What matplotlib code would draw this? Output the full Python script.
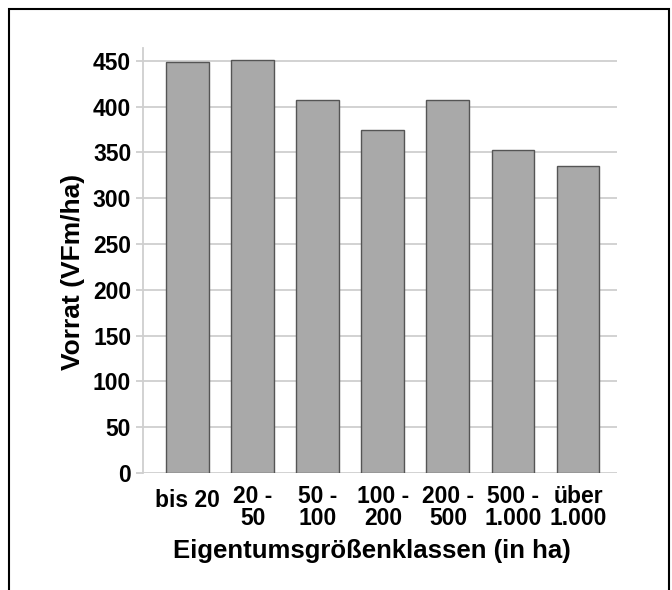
import matplotlib
matplotlib.use("Agg")
import matplotlib.pyplot as plt
from matplotlib.patches import Rectangle

categories = ["bis 20", "20 -\n50", "50 -\n100", "100 -\n200", "200 -\n500", "500 -\n1.000", "über\n1.000"]
values = [449, 451, 407, 375, 407, 353, 335]
yticks = [0, 50, 100, 150, 200, 250, 300, 350, 400, 450]

plt.rcParams['font.family'] = ['Liberation Sans', 'DejaVu Sans']
plt.rcParams['font.weight'] = 'bold'

W, H = 672, 590
fig = plt.figure(figsize=(W / 100, H / 100), dpi=100)
fig.patch.set_facecolor('white')

# outer frame
fig.add_artist(Rectangle((9 / W, -0.05), (669 - 9) / W, 1.05 - 9 / H,
                         transform=fig.transFigure, fill=False,
                         edgecolor='black', linewidth=1.5))

ax = fig.add_axes([143 / W, 1 - 473 / H, (617 - 143) / W, (473 - 48) / H])
x = list(range(len(categories)))
ax.bar(x, values, width=0.66, color='#a9a9a9', edgecolor='#555555', linewidth=1.0, zorder=3)

ax.set_xlim(-0.69, 6.6)
ax.set_ylim(0, 464)
ax.set_yticks(yticks)
ax.set_yticklabels([str(v) for v in yticks], fontsize=16.5, fontweight='bold')
ax.yaxis.grid(True, color='#cfcfcf', linewidth=1.3, zorder=0)
ax.tick_params(axis='y', length=5, color='#cfcfcf', width=1.3, pad=3.5)
ax.set_xticks(x)
ax.set_xticklabels([])
ax.tick_params(axis='x', length=0)
for xi, lab in zip(x, categories):
    single = "\n" not in lab
    ax.text(xi, -18 if single else -13, lab, ha='center', va='top', fontsize=16.5,
            fontweight='bold', linespacing=0.97, transform=ax.transData)

for s in ['top', 'right', 'bottom']:
    ax.spines[s].set_visible(False)
ax.spines['left'].set_color('#cfcfcf')
ax.spines['left'].set_linewidth(1.3)

fig.text(73 / W, 1 - 272 / H, "Vorrat (VFm/ha)", rotation=90, ha='center', va='center',
         fontsize=19, fontweight='bold')
fig.text(372 / W, 1 - 551 / H, "Eigentumsgrößenklassen (in ha)", ha='center', va='center',
         fontsize=18.5, fontweight='bold')

fig.savefig("out.png", dpi=100, facecolor='white')
